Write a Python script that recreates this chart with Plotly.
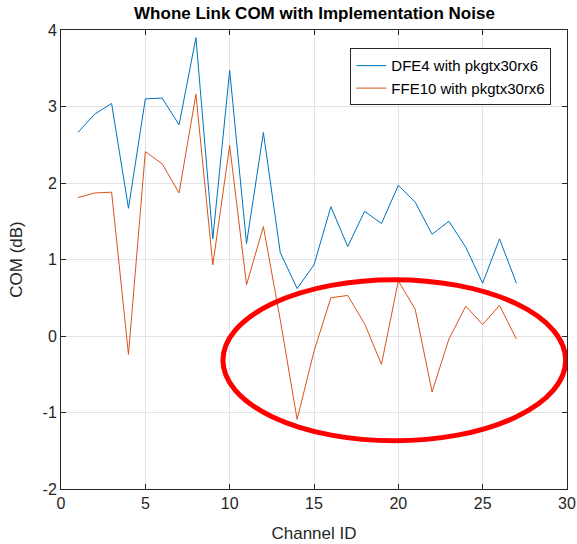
import plotly.graph_objects as go

channel_id = list(range(1, 28))
dfe4_com = [2.66, 2.90, 3.04, 1.67, 3.10, 3.11, 2.76, 3.90, 1.27, 3.47,
            1.21, 2.66, 1.09, 0.62, 0.93, 1.69, 1.17, 1.63, 1.47, 1.97,
            1.75, 1.33, 1.50, 1.16, 0.69, 1.27, 0.69]
ffe10_com = [1.81, 1.87, 1.88, -0.24, 2.41, 2.25, 1.87, 3.16, 0.93, 2.49,
             0.67, 1.43, 0.21, -1.09, -0.20, 0.50, 0.53, 0.16, -0.37, 0.72,
             0.35, -0.73, -0.04, 0.39, 0.15, 0.40, -0.04]

x_ticks = [0, 5, 10, 15, 20, 25, 30]
y_ticks = [-2, -1, 0, 1, 2, 3, 4]
y_tick_labels = ["-2", "-1", "0", "1", "2", "3", "4"]

# highlight ellipse (data coords)
ellipse_x = [9.6, 29.92]
ellipse_y = [-1.37, 0.736]

font = "Liberation Sans, Arial, sans-serif"
ink = "#262626"

fig = go.Figure()
fig.add_trace(go.Scatter(x=channel_id, y=dfe4_com, mode="lines",
                         name="DFE4 with pkgtx30rx6",
                         line=dict(color="#0072BD", width=1)))
fig.add_trace(go.Scatter(x=channel_id, y=ffe10_com, mode="lines",
                         name="FFE10 with pkgtx30rx6",
                         line=dict(color="#D95319", width=1)))

fig.add_shape(type="circle", xref="x", yref="y",
              x0=ellipse_x[0], x1=ellipse_x[1], y0=ellipse_y[0], y1=ellipse_y[1],
              line=dict(color="#FF0000", width=5))

axis_style = dict(showline=True, linecolor=ink, linewidth=1, mirror="ticks",
                  ticks="inside", ticklen=5, tickcolor=ink, automargin=False,
                  showgrid=True, gridcolor="#E3E3E3", gridwidth=1,
                  zeroline=False, tickfont=dict(family=font, size=16, color=ink))

fig.update_xaxes(range=[0, 30], tickvals=x_ticks,
                 title=dict(text="Channel ID", font=dict(family=font, size=17, color=ink)),
                 **axis_style)
fig.update_yaxes(range=[-2, 4], tickvals=y_ticks, ticktext=y_tick_labels,
                 title=dict(text="COM (dB)", font=dict(family=font, size=17, color=ink)),
                 **axis_style)

fig.update_layout(
    width=577, height=544,
    margin=dict(l=61, r=10, t=30, b=55),
    paper_bgcolor="white", plot_bgcolor="white",
    title=dict(text="<b>Whone Link COM with Implementation Noise</b>",
               x=0.545, xanchor="center", y=0.976, yanchor="middle",
               font=dict(family=font, size=17, color="black")),
    legend=dict(x=0.969, y=0.96, xanchor="right", yanchor="top",
                bgcolor="white", bordercolor=ink, borderwidth=1,
                font=dict(family=font, size=15, color="black")),
    showlegend=True,
)

# page body has a default 8px margin, drop it so the figure fills the window
fig.write_html("out.html", config={"displayModeBar": False},
               post_script="document.body.style.margin='0';")
